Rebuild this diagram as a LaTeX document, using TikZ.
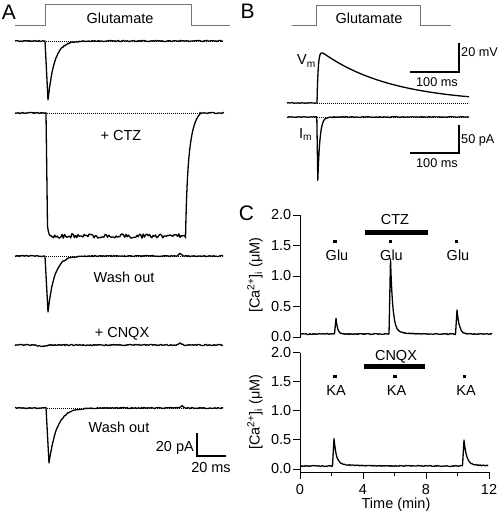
\documentclass[tikz,border=0pt]{standalone}
\usepackage{fontspec}
\setmainfont{Liberation Sans}
\usetikzlibrary{calc}
\def\stim(#1,#2){\fill ($(#1,#2)+(-1.6,-1.6)$) rectangle ++(3.2,3.2);}
\tikzset{
	trace/.style={line width=1.3pt, line join=round},
	zeroline/.style={line width=0.7pt, dash pattern=on 0.8pt off 1.2pt},
	pulse/.style={line width=1pt, color=black!55},
	scalebar/.style={line width=1.2pt},
	axisline/.style={line width=1pt},
	every node/.style={inner sep=0pt}
}
\pgfmathsetseed{11}

\begin{document}
\begin{tikzpicture}[x=1pt, y=-1pt, font=\fontsize{14.5}{17}\selectfont]
		%%%%% START %%%%%
		\useasboundingbox (0,0) rectangle (500,516);
		
		\node[anchor=base, font=\fontsize{21}{24}\selectfont] (pA) at (9,20) {A};
		\node[anchor=base, font=\fontsize{21}{24}\selectfont] (pB) at (247.5,18.3) {B};
		\node[anchor=base, font=\fontsize{21}{24}\selectfont] (pC) at (246.5,220) {C};
		
		%% panel A
		\draw[pulse] (15,26) -- (45,26) -- (45,5) -- (191,5) -- (191,26) -- (230,26);
		\node[anchor=base] (gluA) at (120,24) {Glutamate};
		
		\draw[zeroline] (46,41) -- (223,41);
		\draw[trace] plot[domain=15:45,samples=40] (\x,{41+0.6*rand})
			-- (48,100)
			-- plot[domain=48:110,samples=70] (\x,{41+59*exp(-(\x-48)/6.5)+0.5*rand})
			-- plot[domain=110:223,samples=110] (\x,{41+0.6*rand});
		
		\draw[zeroline] (47,113) -- (200,113);
		\draw[trace] plot[domain=15:46,samples=40] (\x,{113+0.6*rand})
			-- (47.5,226) .. controls (48.5,234) and (49.5,236) .. (51,236)
			-- plot[domain=51:185,samples=110] (\x,{236+2.2*rand})
			-- (185.5,238) .. controls (187,170) and (189,125) .. (200,114)
			-- plot[domain=200:224,samples=25] (\x,{113+0.6*rand});
		\node[anchor=base] (ctzA) at (121,140) {+ CTZ};
		
		\draw[zeroline] (46,256) -- (223,256);
		\draw[trace] plot[domain=15:45,samples=40] (\x,{256+0.6*rand})
			-- (48,312)
			-- plot[domain=48:110,samples=70] (\x,{256+56*exp(-(\x-48)/6.5)+0.5*rand})
			-- plot[domain=110:223,samples=110] (\x,{256-2.5*exp(-min(((\x-180)/2)^2,20))+0.6*rand});
		\node[anchor=base] (washA) at (124,282) {Wash out};
		
		\node[anchor=base] (cnqxA) at (122,337) {+ CNQX};
		\draw[trace] plot[domain=15:223,samples=200] (\x,{345+1.5*exp(-min(((\x-42)/5)^2,20))-2*exp(-min(((\x-180)/2)^2,20))+0.6*rand});
		
		\draw[zeroline] (47,408) -- (223,408);
		\draw[trace] plot[domain=15:46,samples=40] (\x,{408+0.6*rand})
			-- (49,463)
			-- plot[domain=49:120,samples=80] (\x,{408+55*exp(-(\x-49)/8)+0.5*rand})
			-- plot[domain=120:223,samples=100] (\x,{408-2*exp(-min(((\x-182)/2)^2,20))+0.6*rand});
		\node[anchor=base] (washB) at (119,432) {Wash out};
		
		\draw[scalebar] (197,433) -- (197,456) -- (226,456);
		\node[anchor=base east] (pa20) at (194,451) {20 pA};
		\node[anchor=base] (ms20) at (211,472) {20 ms};
		
		%% panel B
		\draw[pulse] (292,26) -- (316,26) -- (316,6) -- (420,6) -- (420,26) -- (451,26);
		\node[anchor=base] (gluB) at (369,24) {Glutamate};
		
		\draw[zeroline] (317,103) -- (469,103);
		\draw[trace] plot[domain=287:317,samples=30] (\x,{103+0.3*rand})
			-- plot[domain=317:330,samples=40] (\x,{103-54.6*(1-exp(-(\x-317)/1.2))*exp(-(\x-317)/70)})
			-- plot[domain=330:469,samples=60] (\x,{103-54.6*(1-exp(-(\x-317)/1.2))*exp(-(\x-317)/70)});
		\node[anchor=base west] (vm) at (297,65) {V\textsubscript{m}};
		
		\draw[zeroline] (317,117) -- (469,117);
		\draw[trace] plot[domain=287:316.8,samples=30] (\x,{117+0.4*rand})
			-- (317.8,180)
			-- plot[domain=317.8:345,samples=40] (\x,{117+63*exp(-(\x-317.8)/2.1)+0.3*rand})
			-- plot[domain=345:469,samples=100] (\x,{117+0.4*rand});
		\node[anchor=base west] (im) at (299,138) {I\textsubscript{m}};
		
		\begin{scope}[font=\fontsize{12.7}{15}\selectfont]
			\draw[scalebar] (459,43) -- (459,72) -- (410,72);
			\node[anchor=base west] (mv20) at (461,57) {20 mV};
			\node[anchor=base] (ms100a) at (437,87) {100 ms};
			\draw[scalebar] (459,125) -- (459,153) -- (410,153);
			\node[anchor=base west] (pa50) at (461,143) {50 pA};
			\node[anchor=base] (ms100b) at (437,167) {100 ms};
		\end{scope}
		
		%% panel C, upper
		\draw[axisline] (300,215) -- (300,338);
		\foreach \v/\t [count=\i] in {0/0.0,0.5/0.5,1/1.0,1.5/1.5,2/2.0} {
			\draw[axisline] (293,{337-61*\v}) -- (300,{337-61*\v});
			\node[anchor=east] (yu\i) at (291.5,{337-61*\v}) {\t};
		}
		\node[rotate=90] (caU) at (255,275) {[Ca\textsuperscript{2+}]\textsubscript{i} (μM)};
		
		\fill (365,229.5) rectangle (428,234.5);
		\node[anchor=base] (ctzC) at (395,224) {CTZ};
		\stim(335,241.7) \stim(390.7,241.7) \stim(456.7,241.7)
		\node[anchor=base] (glu1) at (337,260) {Glu};
		\node[anchor=base] (glu2) at (391.5,260) {Glu};
		\node[anchor=base] (glu3) at (458,260) {Glu};
		
		\draw[trace] plot[domain=300:334.5,samples=40] (\x,{334+0.5*rand})
			-- (336,318.5)
			-- plot[domain=336:350,samples=30] (\x,{334-15.5*exp(-(\x-336)/1.6)+0.4*rand})
			-- plot[domain=350:389,samples=40] (\x,{334+0.5*rand})
			-- (390.5,259.5)
			-- plot[domain=390.5:430,samples=60] (\x,{334-71*exp(-(\x-390.5)/2.2)-4*exp(-(\x-390.5)/10)+0.4*rand})
			-- plot[domain=430:455.5,samples=30] (\x,{334+0.5*rand})
			-- (457,310)
			-- plot[domain=457:492,samples=40] (\x,{334-24*exp(-(\x-457)/2.3)+0.4*rand});
		
		%% panel C, lower
		\draw[axisline] (300,352.5) -- (300,472) -- (489,472);
		\foreach \v/\t [count=\i] in {0/0.0,0.5/0.5,1/1.0,1.5/1.5,2/2.0} {
			\draw[axisline] (293,{469-58.25*\v}) -- (300,{469-58.25*\v});
			\node[anchor=east] (yl\i) at (291.5,{469-58.25*\v}) {\t};
		}
		\foreach \t in {0,4,8,12} {
			\draw[axisline] ({300+15.75*\t},472) -- ++(0,7);
			\node[anchor=base] (xt\t) at ({300+15.75*\t},494) {\t};
		}
		\foreach \t in {2,6,10}
			\draw[axisline] ({300+15.75*\t},472) -- ++(0,4);
		\node[anchor=base] (time) at (396,508) {Time (min)};
		\node[rotate=90] (caL) at (255,412) {[Ca\textsuperscript{2+}]\textsubscript{i} (μM)};
		
		\fill (364,364.3) rectangle (425,369.2);
		\node[anchor=base] (cnqxC) at (396,360.7) {CNQX};
		\stim(335,376.7) \stim(395,376.7) \stim(464.3,376.7)
		\node[anchor=base] (ka1) at (336,395) {KA};
		\node[anchor=base] (ka2) at (396.5,395) {KA};
		\node[anchor=base] (ka3) at (466,395) {KA};
		
		\draw[trace] plot[domain=300:332.5,samples=40] (\x,{466+0.5*rand})
			-- (334,438.5)
			-- plot[domain=334:380,samples=60] (\x,{466-25*exp(-(\x-334)/2.3)-2.5*exp(-(\x-334)/15)+0.4*rand})
			-- plot[domain=380:462.5,samples=80] (\x,{466+0.5*rand})
			-- (464,440)
			-- plot[domain=464:488,samples=35] (\x,{466-24*exp(-(\x-464)/2.6)-2*exp(-(\x-464)/15)+0.4*rand});
		
		%%%%% END %%%%%
	\end{tikzpicture}
\end{document}
